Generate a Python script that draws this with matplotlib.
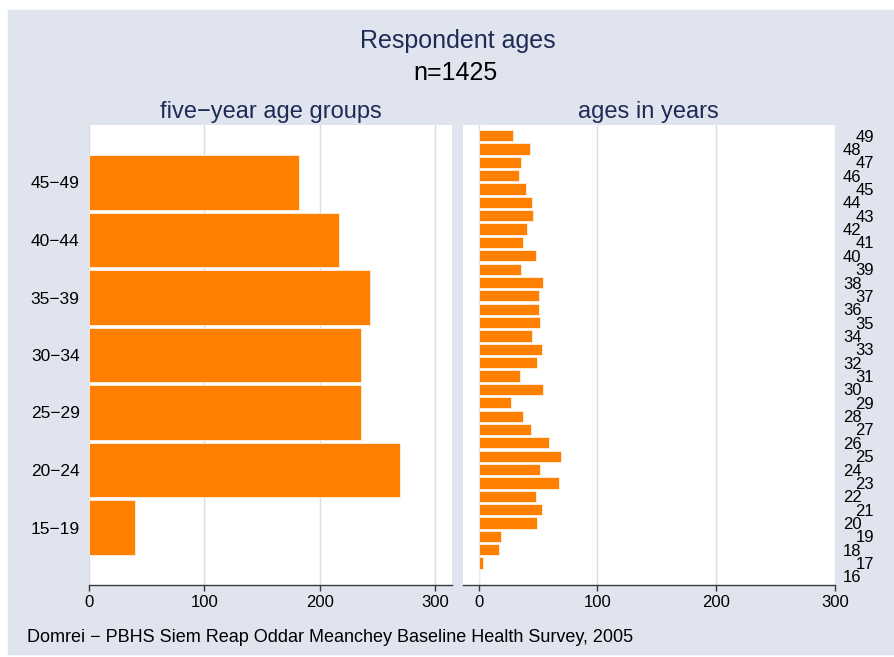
import matplotlib.pyplot as plt
from matplotlib.patches import Rectangle

plt.rcParams['font.family'] = ['Liberation Sans', 'DejaVu Sans']

# respondents per five-year age group
group_labels = ['15−19', '20−24', '25−29', '30−34', '35−39', '40−44', '45−49']
group_counts = [40, 270, 236, 236, 244, 217, 182]

# respondents per single year of age
ages = list(range(16, 50))
age_counts = [0, 4, 17, 19,
              49, 53, 48, 68, 52,
              69, 59, 44, 37, 27,
              54, 35, 49, 53, 45,
              52, 51, 51, 54, 36,
              48, 37, 41, 46, 45,
              40, 34, 36, 43, 29]

x_ticks = [0, 100, 200, 300]

BG = '#DFE4EF'
ORANGE = '#FF7F00'
NAVY = '#1E2B55'
GRID = '#D5DCEA'
AXIS = '#3A3A3A'

W, H = 894, 657
fig = plt.figure(figsize=(W / 100, H / 100), dpi=100)
fig.patches.append(Rectangle((8 / W, 3 / H), 886 / W, 644 / H,
                             transform=fig.transFigure, color=BG, zorder=-10))

bottom = 1 - 585 / H
height = 460 / H
ax1 = fig.add_axes([89.3 / W, bottom, (452 - 89.3) / W, height])
ax2 = fig.add_axes([463 / W, bottom, (834.7 - 463) / W, height])

# left: five-year groups
ax1.barh(range(1, len(group_counts) + 1), group_counts, height=0.94,
         color=ORANGE, edgecolor='#FFF1E3', linewidth=0.6, zorder=2)
ax1.set_xlim(0, 315)
ax1.set_ylim(0, 8)
ax1.set_yticks(range(1, len(group_labels) + 1), group_labels)
ax1.tick_params(axis='y', length=0, pad=7, labelsize=12.5)

# right: single years, labels staggered on the right side
ax2.barh(ages, age_counts, height=0.84,
         color=ORANGE, edgecolor='#FFF1E3', linewidth=0.6, zorder=2)
ax2.set_xlim(-13.2, 300)
ax2.set_ylim(15.36, 49.79)
ax2.yaxis.tick_right()
evens = [a for a in ages if a % 2 == 0]
odds = [a for a in ages if a % 2 == 1]
ax2.set_yticks(evens, [str(a) for a in evens])
ax2.set_yticks(odds, [str(a) for a in odds], minor=True)
ax2.tick_params(axis='y', which='major', length=0, pad=6, labelsize=12)
ax2.tick_params(axis='y', which='minor', length=0, pad=15, labelsize=12)

for ax in (ax1, ax2):
    ax.set_facecolor('white')
    ax.set_xticks(x_ticks)
    ax.grid(axis='x', which='major', color=GRID, linewidth=1.0, zorder=0)
    ax.set_axisbelow(True)
    for side in ('left', 'right', 'top'):
        ax.spines[side].set_visible(False)
    ax.spines['bottom'].set_color(AXIS)
    ax.spines['bottom'].set_linewidth(1.0)
    ax.tick_params(axis='x', length=4, width=1, color=AXIS, pad=3, labelsize=12)

ax1.set_title('five−year age groups', fontsize=17, color=NAVY, pad=5)
ax2.set_title('ages in years', fontsize=17, color=NAVY, pad=5)

fig.text(458 / W, 1 - 41 / H, 'Respondent ages', ha='center', va='center',
         fontsize=18, color=NAVY)
fig.text(455 / W, 1 - 73 / H, 'n=1425', ha='center', va='center',
         fontsize=18, color='black')
fig.text(27 / W, 1 - 637 / H,
         'Domrei − PBHS Siem Reap Oddar Meanchey Baseline Health Survey, 2005',
         ha='left', va='center', fontsize=13, color='black')

fig.savefig('out.png', dpi=100, facecolor='white')
